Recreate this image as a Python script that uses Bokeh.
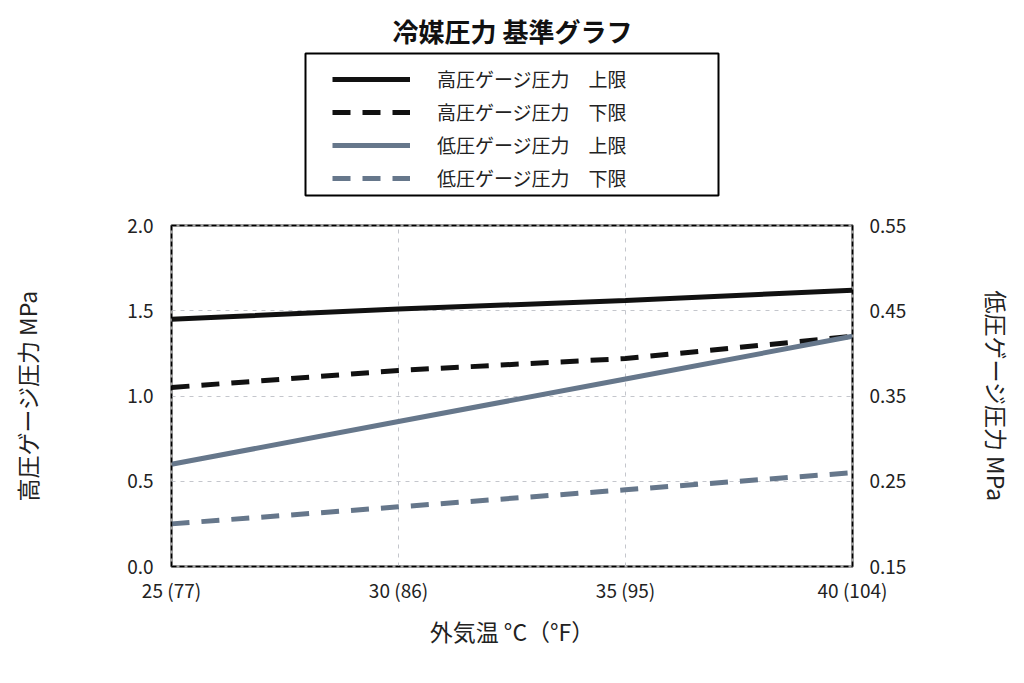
from bokeh.plotting import figure
from bokeh.models import (Range1d, LinearAxis, FixedTicker, Legend, LegendItem,
                          BoxAnnotation, Label)
from bokeh.layouts import column
from bokeh.embed import file_html
from bokeh.resources import INLINE

# ---- data ----
temps_c = [25, 30, 35, 40]
x_tick_labels = ["25 (77)", "30 (86)", "35 (95)", "40 (104)"]
high_upper = [1.45, 1.51, 1.56, 1.62]
high_lower = [1.05, 1.15, 1.22, 1.35]
low_upper = [0.27, 0.32, 0.37, 0.42]
low_lower = [0.20, 0.22, 0.24, 0.26]
left_ticks = [0.0, 0.5, 1.0, 1.5, 2.0]
right_ticks = [0.15, 0.25, 0.35, 0.45, 0.55]

title_text = "冷媒圧力 基準グラフ"
series_labels = ["高圧ゲージ圧力　上限", "高圧ゲージ圧力　下限",
                 "低圧ゲージ圧力　上限", "低圧ゲージ圧力　下限"]

FONT = "Noto Sans CJK JP"
BLACK = "#111111"
SLATE = "#66778b"
TEXT = "#222222"
DASH = "18 12"
styles = [dict(line_color=BLACK), dict(line_color=BLACK, line_dash=DASH),
          dict(line_color=SLATE), dict(line_color=SLATE, line_dash=DASH)]
series = [high_upper, high_lower, low_upper, low_lower]

W = 1024
TOP_H = 205
MAIN_H = 683 - TOP_H
FL, FR = 171, 852  # frame left/right in page pixels (frames are aligned by column)

# ---------------- header (title + legend) ----------------
top = figure(width=W, height=TOP_H, output_backend="svg", toolbar_location=None,
             x_range=Range1d(FL, FR), y_range=Range1d(0, TOP_H),
             x_axis_type=None, y_axis_type=None,
             min_border_left=FL, min_border_right=W - FR,
             min_border_top=0, min_border_bottom=0)
top.outline_line_color = None
top.grid.visible = False
top.background_fill_color = "white"
top.border_fill_color = "white"

top.add_layout(Label(x=W / 2, y=TOP_H - 30, text=title_text, text_font=FONT,
                     text_font_size="26px", text_font_style="bold",
                     text_color=BLACK, text_align="center",
                     text_baseline="middle"))

top.add_layout(BoxAnnotation(left=305, right=718, bottom=TOP_H - 195,
                             top=TOP_H - 53, fill_color=None, fill_alpha=0,
                             line_color="black", line_alpha=1, line_width=2))

# legend proxies: same series, hidden in the header (only their legend glyphs show)
legend_renderers = [top.line(temps_c, s, line_width=5, visible=False, **st)
                    for s, st in zip(series, styles)]
legend = Legend(items=[LegendItem(label=l, renderers=[r])
                       for l, r in zip(series_labels, legend_renderers)],
                location=(332 - FL, TOP_H - 191), orientation="vertical",
                border_line_color=None, background_fill_color=None,
                label_text_font=FONT, label_text_font_size="19px",
                label_text_color=TEXT,
                glyph_width=78, glyph_height=26, label_height=26,
                label_width=200, label_standoff=27, padding=0, spacing=6,
                margin=0)
top.add_layout(legend)

# ---------------- main chart ----------------
p = figure(width=W, height=MAIN_H, output_backend="svg", toolbar_location=None,
           x_range=Range1d(25, 40), y_range=Range1d(0, 2.0),
           min_border_left=FL, min_border_right=W - FR, min_border_bottom=117,
           min_border_top=225 - TOP_H)
p.extra_y_ranges = {"low": Range1d(0.15, 0.55)}

p.outline_line_color = "#a0a0a0"
p.outline_line_width = 3
p.background_fill_color = "white"
p.border_fill_color = "white"

ax_b = p.xaxis[0]
ax_b.ticker = FixedTicker(ticks=temps_c)
ax_b.major_label_overrides = {t: l for t, l in zip(temps_c, x_tick_labels)}
ax_b.axis_label = "外気温 °C（°F）"

ax_l = p.yaxis[0]
ax_l.ticker = FixedTicker(ticks=left_ticks)
ax_l.major_label_overrides = {t: f"{t:.1f}" for t in left_ticks}
ax_l.axis_label = "高圧ゲージ圧力 MPa"

ax_r = LinearAxis(y_range_name="low", axis_label="低圧ゲージ圧力 MPa",
                  ticker=FixedTicker(ticks=right_ticks))
ax_r.major_label_overrides = {t: f"{t:.2f}" for t in right_ticks}
p.add_layout(ax_r, "right")

ax_t = LinearAxis(ticker=FixedTicker(ticks=[]), major_label_text_font_size="0px")
p.add_layout(ax_t, "above")

for ax in (ax_b, ax_l, ax_r):
    ax.major_label_text_font = FONT
    ax.major_label_text_font_size = "19px"
    ax.major_label_text_color = TEXT
    ax.axis_label_text_font = FONT
    ax.axis_label_text_font_size = "23px"
    ax.axis_label_text_font_style = "normal"
    ax.axis_label_text_color = TEXT

for ax in (ax_b, ax_l, ax_r, ax_t):
    ax.axis_line_color = "black"
    ax.axis_line_width = 1.5
    ax.axis_line_dash = "5 3"
    ax.major_tick_line_color = None
    ax.minor_tick_line_color = None

ax_b.major_label_standoff = 3
ax_l.major_label_standoff = 12
ax_r.major_label_standoff = 11
ax_b.axis_label_standoff = 8
ax_l.axis_label_standoff = 80
ax_r.axis_label_standoff = 71

p.xgrid.grid_line_color = "#c4c6cc"
p.ygrid.grid_line_color = "#c4c6cc"
p.xgrid.grid_line_dash = "4 5"
p.ygrid.grid_line_dash = "4 5"
p.xgrid.grid_line_width = 1
p.ygrid.grid_line_width = 1

p.line(temps_c, high_upper, line_width=5, **styles[0])
p.line(temps_c, high_lower, line_width=5, **styles[1])
p.line(temps_c, low_upper, line_width=5, y_range_name="low", **styles[2])
p.line(temps_c, low_lower, line_width=5, y_range_name="low", **styles[3])

layout = column(top, p, spacing=0)
open("out.html", "w").write(file_html(layout, INLINE))
